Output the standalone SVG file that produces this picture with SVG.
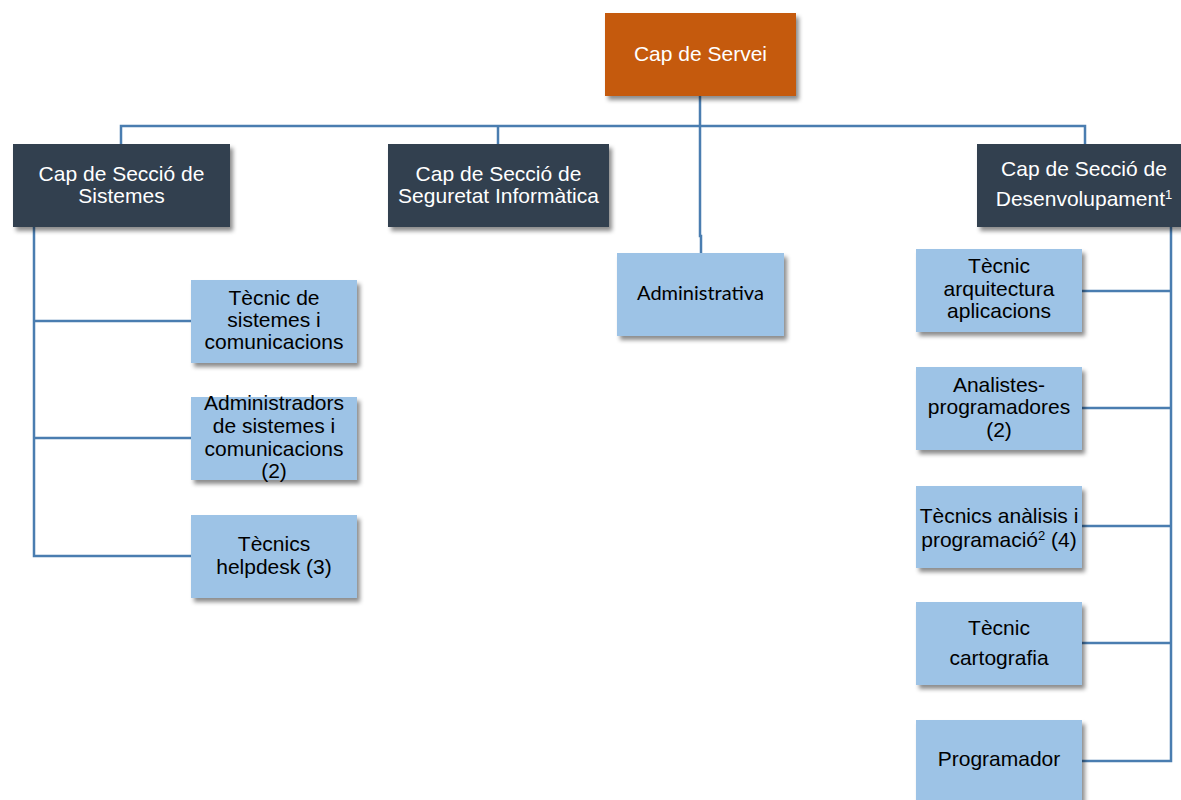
<svg xmlns="http://www.w3.org/2000/svg" width="1181" height="800" viewBox="0 0 1181 800">
<defs>
<filter id="sh" x="-10%" y="-10%" width="125%" height="130%">
<feDropShadow dx="3" dy="4" stdDeviation="2.2" flood-color="#000" flood-opacity="0.45"/>
</filter>
<style>
.top{fill:#C55A11;filter:url(#sh)}
.dark{fill:#333F50;filter:url(#sh)}
.light{fill:#9DC3E6;filter:url(#sh)}
.tw{font-family:"Liberation Sans",Arial,sans-serif;font-size:21px;fill:#FFFFFF;text-anchor:middle}
.tb{font-family:"Liberation Sans",Arial,sans-serif;font-size:21px;fill:#000000;text-anchor:middle}
.tc{font-family:Lato,"Open Sans",sans-serif;font-size:20px;fill:#000000;text-anchor:middle}
.sup{font-size:13px}
.ln{fill:none;stroke:#4A7DB0;stroke-width:2.5}
</style>
</defs>
<rect width="1181" height="800" fill="#FFFFFF"/>
<g id="connectors">
<path class="ln" d="M700,96 V236 H701 V253"/>
<path class="ln" d="M121,144 V126 H1085 V144"/>
<path class="ln" d="M498,126 V144"/>
<path class="ln" d="M34,227 V556 H191 M34,321 H191 M34,438 H191"/>
<path class="ln" d="M1171,227 V761 H1082 M1082,291 H1171 M1082,408 H1171 M1082,526 H1171 M1082,643 H1171"/>
</g>
<g id="cap-servei">
<rect class="top" x="605" y="13" width="191" height="83"/>
<text class="tw" x="700.5" y="61">Cap de Servei</text>
</g>
<g id="cap-sistemes">
<rect class="dark" x="13" y="144" width="217" height="83"/>
<text class="tw" x="121.5" y="181">Cap de Secció de</text>
<text class="tw" x="121.5" y="203">Sistemes</text>
</g>
<g id="cap-seguretat">
<rect class="dark" x="388" y="144" width="221" height="83"/>
<text class="tw" x="498.5" y="181">Cap de Secció de</text>
<text class="tw" x="498.5" y="203">Seguretat Informàtica</text>
</g>
<g id="cap-desenvolupament">
<rect class="dark" x="977" y="144" width="217" height="83"/>
<text class="tw" x="1084" y="176">Cap de Secció de</text>
<text class="tw" x="1084" y="206">Desenvolupament<tspan class="sup" dy="-7">1</tspan></text>
</g>
<g id="administrativa">
<rect class="light" x="617" y="253" width="167" height="83"/>
<text class="tc" x="700.5" y="300">Administrativa</text>
</g>
<g id="tecnic-sistemes">
<rect class="light" x="191" y="280" width="166" height="83"/>
<text class="tb" x="274" y="305">Tècnic de</text>
<text class="tb" x="274" y="327">sistemes i</text>
<text class="tb" x="274" y="349">comunicacions</text>
</g>
<g id="administradors">
<rect class="light" x="191" y="397" width="166" height="83"/>
<text class="tb" x="274" y="410">Administradors</text>
<text class="tb" x="274" y="433">de sistemes i</text>
<text class="tb" x="274" y="456">comunicacions</text>
<text class="tb" x="274" y="478">(2)</text>
</g>
<g id="helpdesk">
<rect class="light" x="191" y="515" width="166" height="83"/>
<text class="tb" x="274" y="551">Tècnics</text>
<text class="tb" x="274" y="574">helpdesk (3)</text>
</g>
<g id="arquitectura">
<rect class="light" x="916" y="249" width="166" height="83"/>
<text class="tb" x="999" y="273">Tècnic</text>
<text class="tb" x="999" y="296">arquitectura</text>
<text class="tb" x="999" y="318">aplicacions</text>
</g>
<g id="analistes">
<rect class="light" x="916" y="367" width="166" height="83"/>
<text class="tb" x="999" y="392">Analistes-</text>
<text class="tb" x="999" y="414">programadores</text>
<text class="tb" x="999" y="437">(2)</text>
</g>
<g id="tecnics-analisi">
<rect class="light" x="916" y="486" width="166" height="82"/>
<text class="tb" x="999" y="523">Tècnics anàlisis i</text>
<text class="tb" x="999" y="547">programació<tspan class="sup" dy="-7">2</tspan><tspan dy="7"> (4)</tspan></text>
</g>
<g id="cartografia">
<rect class="light" x="916" y="602" width="166" height="83"/>
<text class="tb" x="999" y="635">Tècnic</text>
<text class="tb" x="999" y="665">cartografia</text>
</g>
<g id="programador">
<rect class="light" x="916" y="720" width="166" height="90"/>
<text class="tb" x="999" y="766">Programador</text>
</g>
</svg>
